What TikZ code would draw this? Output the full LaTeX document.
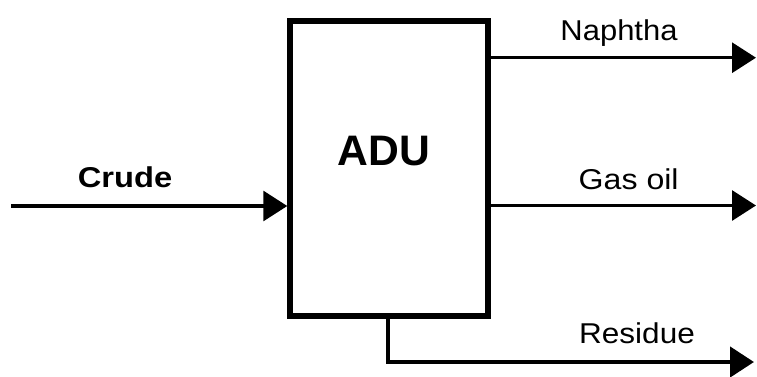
\documentclass[tikz,border=0pt]{standalone}
\usepackage{fontspec}
\setmainfont{Liberation Sans}
\usetikzlibrary{arrows.meta}
\begin{document}
\begin{tikzpicture}[x=0.75pt,y=-0.75pt,
  flow/.style={line width=2.3pt,-{Triangle[length=18pt,width=22.5pt]}},
  unitbox/.style={draw,line width=4.1pt,minimum width=148.5pt,minimum height=221.25pt,inner sep=0pt},
  lbl/.style={anchor=base,inner sep=0pt,font=\fontsize{21.5pt}{24pt}\selectfont},
  blbl/.style={anchor=base,inner sep=0pt,font=\fontsize{21.5pt}{24pt}\selectfont\bfseries}]
\useasboundingbox (0,0) rectangle (757,376);
\node[unitbox] (adu) at (389,168.5) {};
\node[anchor=base,inner sep=0pt,font=\fontsize{32pt}{36pt}\selectfont\bfseries] (adutext) at (384,165.7) {ADU};
\coordinate (crudein) at (11,206);
\coordinate (naphout) at (756,57.7);
\coordinate (gasout) at (756,205.5);
\coordinate (resout) at (754,362);
\coordinate (resdown) at (388,362);
\draw[flow] (crudein) -- (crudein -| adu.west);
\draw[flow] (adu.east |- naphout) -- (naphout);
\draw[flow] (adu.east |- gasout) -- (gasout);
\draw[flow,line width=3.4pt] (resdown |- adu.south) -- (resdown) -- (resout);
\node[blbl] (crudelbl) at (125,187) {\scalebox{1.14}[1]{Crude}};
\node[lbl] (naphlbl) at (619,40) {\scalebox{1.08}[1]{Naphtha}};
\node[lbl] (gaslbl) at (628.7,189) {\scalebox{1.12}[1]{Gas oil}};
\node[lbl] (reslbl) at (637,343) {\scalebox{1.1}[1]{Residue}};
\end{tikzpicture}
\end{document}
